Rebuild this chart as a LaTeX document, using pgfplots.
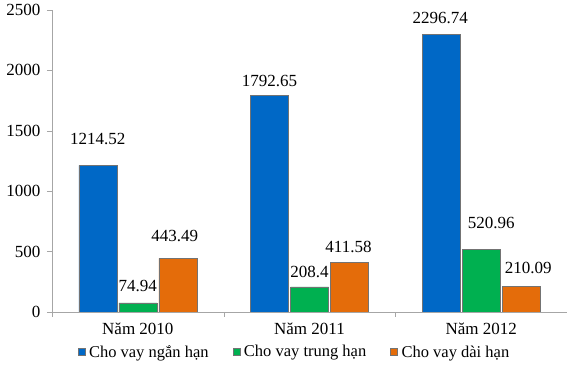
\documentclass[border=0pt]{standalone}
\usepackage{pgfplots}
\pgfplotsset{compat=1.18}
\usepackage{fontspec}
\setmainfont{Liberation Serif}
\definecolor{cblue}{HTML}{0068C6}
\definecolor{cgreen}{HTML}{00B050}
\definecolor{corange}{HTML}{E46C0A}
\begin{document}
\begin{tikzpicture}
\path[use as bounding box] (-52pt,-54pt) rectangle (515pt,312pt);
\begin{axis}[
  at={(0pt,0pt)}, anchor=south west,
  scale only axis, width=515pt, height=302pt,
  ybar, bar width=38pt,
  xmin=-0.5, xmax=2.5, ymin=0, ymax=2500,
  ytick={0,500,1000,1500,2000,2500},
  xtick={0,1,2}, xticklabels={Năm 2010, Năm 2011, Năm 2012},
  minor xtick={-0.5,0.5,1.5,2.5},
  axis lines*=left,
  tick align=outside,
  major tick length=5pt, minor tick length=5pt,
  major x tick style={draw=none},
  minor x tick style={draw=gray!70},
  y tick style={draw=gray!70},
  axis line style={draw=gray!70},
  tick label style={font=\fontsize{17}{20}\selectfont},
  /pgf/number format/assume math mode=true,
  /pgf/number format/1000 sep={},
  xticklabel style={yshift=-2pt},
  yticklabel style={xshift=-3pt},
  point meta=explicit symbolic,
  nodes near coords,
  visualization depends on={\thisrow{dx} \as \dx},
  visualization depends on={\thisrow{dy} \as \dy},
  every node near coord/.append style={anchor=center, xshift=\dx pt, yshift=\dy pt, font=\fontsize{17}{20}\selectfont, inner sep=0pt},
  legend columns=3,
  legend style={at={(0.4709,-0.1325)}, anchor=center, draw=none, fill=none,
    font=\fontsize{16.5}{19}\selectfont, inner sep=0pt,
    /tikz/every odd column/.append style={column sep=2pt},
    /tikz/every even column/.append style={column sep=22pt}},
  legend image code/.code={\draw[#1, line width=0.3pt] (0pt,-3.5pt) rectangle (7pt,3.5pt);},
]
\addplot[fill=cblue, draw=black!55, line width=0.5pt] table[x=x, y=y, meta=lab] {
x y lab dx dy
0 1214.52 1214.52 0 26
1 1792.65 1792.65 0 14
2 2296.74 2296.74 -1 17
};
\addplot[fill=cgreen, draw=black!55, line width=0.5pt] table[x=x, y=y, meta=lab] {
x y lab dx dy
0 74.94 74.94 0 17
1 208.4 208.4 0 15
2 520.96 520.96 10 26
};
\addplot[fill=corange, draw=black!55, line width=0.5pt] table[x=x, y=y, meta=lab] {
x y lab dx dy
0 443.49 443.49 -3 22
1 411.58 411.58 -1 15
2 210.09 210.09 7 19
};
\legend{Cho vay ngắn hạn, Cho vay trung hạn, Cho vay dài hạn}
\end{axis}
\end{tikzpicture}
\end{document}
